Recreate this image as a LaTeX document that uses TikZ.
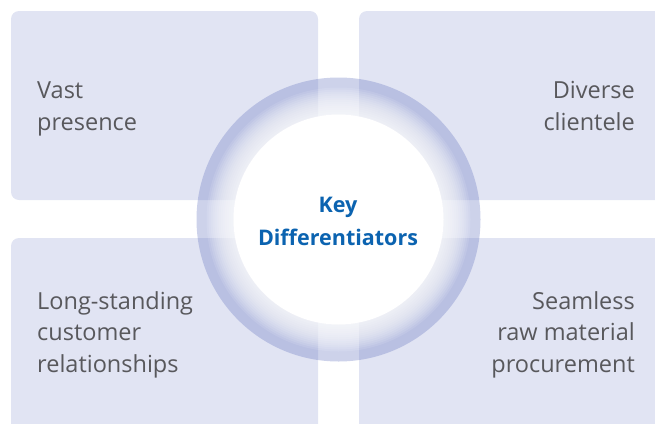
\documentclass[tikz,border=0pt]{standalone}
\usepackage{fontspec}
\setmainfont{Open Sans}
\usepackage{xcolor}

\definecolor{tilefill}{HTML}{E1E4F3}
\definecolor{ringblue}{HTML}{6F7EC4}
\definecolor{keyblue}{HTML}{0B63B0}
\definecolor{textgray}{HTML}{58585C}

\tikzset{
    tile/.style={fill=tilefill, rounded corners=8pt},
    glow/.style={fill=white, opacity=0.11},
    tiletext/.style={text=textgray, inner sep=0pt, font=\fontsize{23.5}{31.3}\selectfont},
    keytext/.style={text=keyblue, inner sep=0pt, align=center, font=\bfseries\fontsize{21.5}{33}\selectfont}}

\begin{document}
\begin{tikzpicture}[x=1pt,y=-1pt]
\useasboundingbox (0,0) rectangle (655,423);
\clip (0,0) rectangle (655,423);
\coordinate (O) at (338.5,219.5);

% four tiles
\fill[tile] (11,11) rectangle (318,200);
\fill[tile] (359,11) rectangle (680,200);
\fill[tile] (11,238) rectangle (318,450);
\fill[tile] (359,238) rectangle (680,450);

% ring, soft white glow, white core
\fill[ringblue, opacity=0.35, even odd rule] (O) circle[radius=142pt] (O) circle[radius=104pt];
\foreach \r in {132,130,...,106}
    \fill[glow] (O) circle[radius=\r pt];
\fill[white] (O) circle[radius=105pt];

\node[tiletext, align=left, anchor=base west] (vast) at (37,130) {Vast\\presence};
\node[tiletext, align=right, anchor=base east] (diverse) at (635,130) {Diverse\\clientele};
\node[tiletext, align=left, anchor=base west] (long) at (37,372) {Long-standing\\customer\\relationships};
\node[tiletext, align=right, anchor=base east] (seamless) at (635,372) {Seamless\\raw material\\procurement};
\node[keytext, anchor=base] (key) at (338,245) {Key\\Differentiators};
\end{tikzpicture}
\end{document}
